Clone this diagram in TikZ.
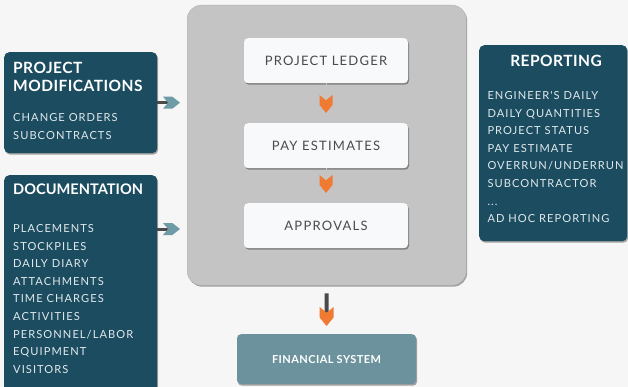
\documentclass[tikz,border=0pt]{standalone}
\usepackage{fontspec}
\setmainfont{Lato}
\newfontfamily\headfont[LetterSpace=3]{Lato}
\newfontfamily\bodyfont[LetterSpace=9.5]{Lato}
\newfontfamily\finfont[LetterSpace=4]{Lato}
\usetikzlibrary{arrows.meta,shadows,calc}
\definecolor{bgc}{HTML}{F6F6F6}
\definecolor{dteal}{HTML}{1B4C60}
\definecolor{grayc}{HTML}{C4C4C4}
\definecolor{grayedge}{HTML}{B2B2B2}
\definecolor{whitec}{HTML}{F8F9FB}
\definecolor{boxtext}{HTML}{4A4A4A}
\definecolor{orangec}{HTML}{F07A32}
\definecolor{tealc}{HTML}{6E9BA6}
\definecolor{shaftc}{HTML}{4A4A4A}
\definecolor{finc}{HTML}{6C939D}
\definecolor{lighttext}{HTML}{E2E9EC}
\pgfdeclarearrow{
  name = Chev,
  parameters = {\the\pgfarrowlength,\the\pgfarrowwidth},
  setup code = {
    \pgfarrowssettipend{0pt}
    \pgfarrowssetlineend{-0.6\pgfarrowlength}
    \pgfarrowssetvisualbackend{-\pgfarrowlength}
    \pgfarrowssetbackend{-\pgfarrowlength}
    \pgfarrowshullpoint{0pt}{0pt}
    \pgfarrowshullpoint{-\pgfarrowlength}{0.5\pgfarrowwidth}
    \pgfarrowshullpoint{-\pgfarrowlength}{-0.5\pgfarrowwidth}
    \pgfarrowssavethe\pgfarrowlength
    \pgfarrowssavethe\pgfarrowwidth
  },
  drawing code = {
    \pgfpathmoveto{\pgfpoint{0pt}{0pt}}
    \pgfpathlineto{\pgfpoint{-0.45\pgfarrowlength}{0.5\pgfarrowwidth}}
    \pgfpathlineto{\pgfpoint{-\pgfarrowlength}{0.5\pgfarrowwidth}}
    \pgfpathlineto{\pgfpoint{-0.7\pgfarrowlength}{0pt}}
    \pgfpathlineto{\pgfpoint{-\pgfarrowlength}{-0.5\pgfarrowwidth}}
    \pgfpathlineto{\pgfpoint{-0.45\pgfarrowlength}{-0.5\pgfarrowwidth}}
    \pgfpathclose
    \pgfusepathqfill
  },
  defaults = {length=17pt, width=12pt}
}
\tikzset{
  shadowed/.style={drop shadow={shadow xshift=1pt, shadow yshift=-1.5pt, opacity=0.35, fill=black}},
  darkbox/.style={fill=dteal, rounded corners=5pt, shadowed, minimum width=153pt, inner sep=0pt, anchor=north west},
  headtxt/.style={font=\headfont\bfseries\fontsize{15.5}{18.5}\selectfont, text=white, align=left, inner sep=0pt},
  itemtxt/.style={font=\bodyfont\fontsize{11.1}{17.6}\selectfont, text=lighttext, align=left, inner sep=0pt},
  whitebox/.style={fill=whitec, rounded corners=4pt, shadowed, minimum width=164pt, minimum height=45pt, inner sep=0pt, anchor=north, font=\bodyfont\fontsize{13}{15}\selectfont, text=boxtext},
  sidearrow/.style={draw=shaftc, line width=3pt, -{Chev[color=tealc]}, shorten >=7pt},
  innerarrow/.style={draw=grayc, line width=0.5pt, -{Chev[color=orangec,length=18pt,width=13pt]}, shorten >=10pt},
  downarrow/.style={draw=shaftc, line width=4pt, -{Chev[color=orangec,length=19pt,width=14pt]}, shorten >=8pt, shorten <=8pt}
}
\begin{document}
\begin{tikzpicture}[x=1pt,y=-1pt]
\fill[bgc] (0,0) rectangle (628,387);
\useasboundingbox (0,0) rectangle (628,387);
% centre panel
\node[fill=grayc, draw=grayedge, rounded corners=14pt, shadowed, minimum width=279pt, minimum height=280pt, anchor=north west, inner sep=0pt] (core) at (187,5) {};
\node[whitebox] (ledger) at (326,38) {PROJECT LEDGER};
\node[whitebox] (payest) at (326,123) {PAY ESTIMATES};
\node[whitebox] (approv) at (326,203) {APPROVALS};
\draw[innerarrow] (ledger) -- (payest);
\draw[innerarrow] (payest) -- (approv);
% left boxes
\node[darkbox, minimum height=101pt] (mods) at (4,52) {};
\node[headtxt, anchor=base west] (modsh) at (13,92) {PROJECT\\MODIFICATIONS};
\node[itemtxt, anchor=base west] (modsi) at (13,139.5) {CHANGE ORDERS\\SUBCONTRACTS};
\node[darkbox, minimum height=225pt] (docs) at (4,175) {};
\node[headtxt, font=\fontspec{Lato}\bfseries\fontsize{14.6}{18}\selectfont, anchor=base west] (docsh) at (13,195) {DOCUMENTATION};
\node[itemtxt, anchor=base west] (docsi) at (13,373.3) {PLACEMENTS\\STOCKPILES\\DAILY DIARY\\ATTACHMENTS\\TIME CHARGES\\ACTIVITIES\\PERSONNEL/LABOR\\EQUIPMENT\\VISITORS};
% right box
\node[darkbox, minimum width=148pt, minimum height=196pt] (rep) at (479,45) {};
\node[headtxt, anchor=base] (reph) at (556,66.7) {REPORTING};
\node[itemtxt, anchor=base west] (repi) at (487.3,222.7) {ENGINEER'S DAILY\\DAILY QUANTITIES\\PROJECT STATUS\\PAY ESTIMATE\\OVERRUN/UNDERRUN\\SUBCONTRACTOR\\...\\AD HOC REPORTING};
% financial system
\node[fill=finc, rounded corners=4pt, shadowed, minimum width=179pt, minimum height=50pt, anchor=north, inner sep=0pt, font=\finfont\bfseries\fontsize{11}{12}\selectfont, text=white] (fin) at (326.5,334) {FINANCIAL SYSTEM};
% connectors
\draw[sidearrow] (mods.east) -- (mods.east -| core.west);
\coordinate (docsout) at ($(docs.north east)+(0,54)$);
\draw[sidearrow] (docsout) -- (docsout -| core.west);
\draw[downarrow] (core.south) -- (fin.north);
\end{tikzpicture}
\end{document}
